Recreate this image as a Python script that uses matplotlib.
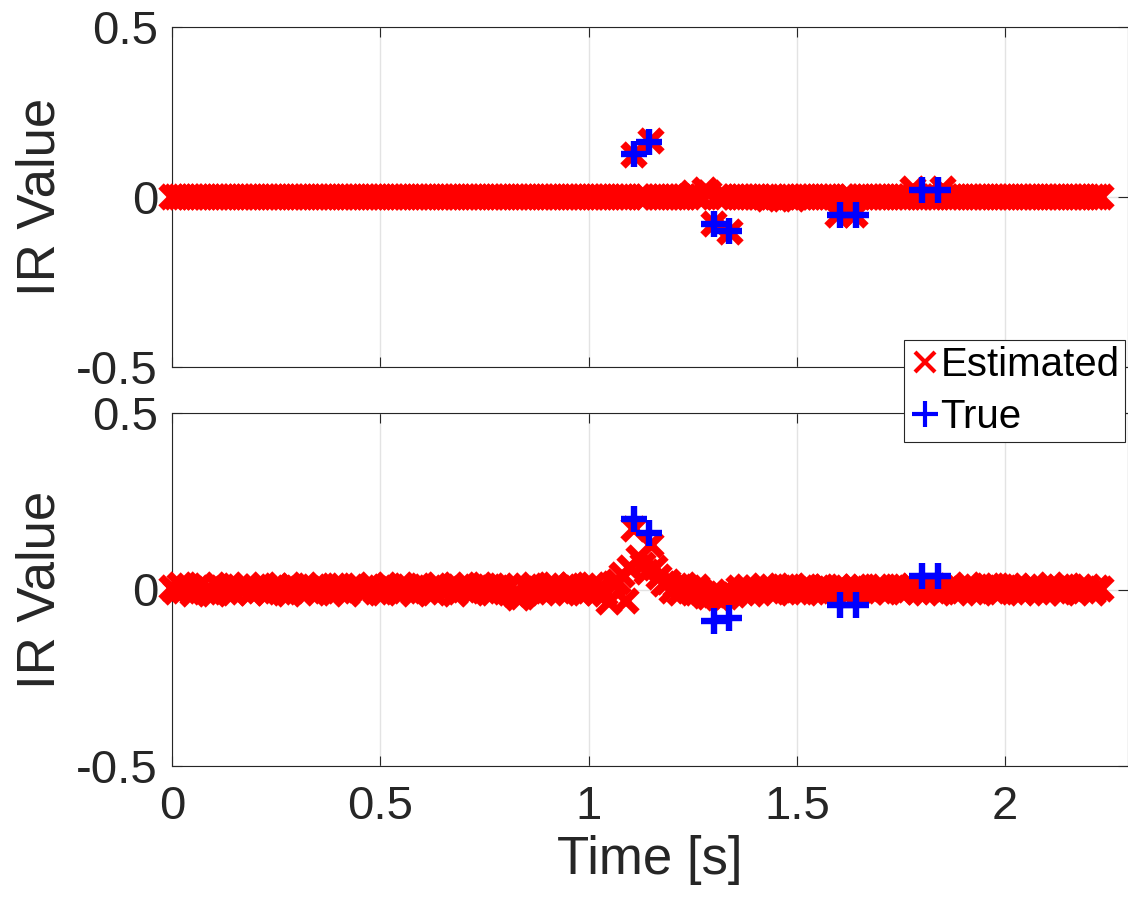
import numpy as np
import matplotlib
matplotlib.use("Agg")
import matplotlib.pyplot as plt

# ── Data ─────────────────────────────────────────────────────────────────────
# sample times of the estimated impulse response, 10 ms apart
t_est = np.round(np.arange(224) * 0.01, 2)

# top panel: estimate is flat zero except around the true taps
est_top = [0.0] * 224
top_taps = {111: 0.124, 115: 0.165, 125: 0.012, 128: 0.020, 129: 0.012,
            130: -0.080, 134: -0.103, 143: -0.006, 146: -0.007, 149: -0.005,
            160: -0.053, 164: -0.053, 178: 0.025, 185: 0.025}
for i, v in top_taps.items():
    est_top[i] = v

# bottom panel: noisy estimate
est_bot = [
    0.005, -0.007, 0.012, -0.003, 0.009, -0.012, 0.005, 0.013, -0.008, 0.002,
    -0.012, 0.010, 0.003, -0.006, 0.012, -0.009, 0.006, -0.002, 0.011, -0.010,
    0.008, -0.004, 0.013, -0.011, 0.003, 0.010, -0.007, 0.001, -0.013, 0.009,
    0.005, -0.008, 0.012, -0.003, 0.006, -0.011, 0.010, 0.002, -0.009, 0.011,
    -0.005, 0.009, -0.012, 0.004, 0.011, -0.002, -0.010, 0.007, 0.013, -0.006,
    0.003, -0.011, 0.010, 0.001, -0.008, 0.012, -0.004, 0.006, -0.013, 0.009,
    0.011, -0.003, 0.005, -0.010, 0.014, -0.006, 0.002, 0.010, -0.012, 0.006,
    -0.002, 0.012, -0.009, 0.004, 0.013, -0.005, 0.007, -0.011, 0.003, 0.010,
    -0.008, 0.011, -0.013, -0.024, -0.020, 0.006, -0.004, 0.013, 0.002, -0.010,
    0.009, -0.006, 0.012, -0.003, 0.007, -0.011, 0.014, 0.004, -0.009, 0.010,
    -0.005, 0.013, -0.011, 0.006, -0.012, -0.034, 0.015, 0.020, 0.040, -0.032,
    0.060, 0.170, 0.090, 0.070, 0.050, 0.127, 0.060, 0.035, 0.015, 0.020,
    -0.004, 0.011, -0.009, 0.013, 0.003, -0.011, 0.008, -0.006, -0.018, -0.022,
    -0.015, -0.025, -0.012, -0.020, -0.008, -0.015, 0.004, -0.010, 0.006, -0.012,
    0.005, -0.008, 0.010, -0.004, 0.007, -0.010, 0.003, 0.008, -0.006, 0.009,
    -0.002, -0.008, 0.006, 0.008, -0.007, 0.004, -0.009, 0.007, 0.002, -0.005,
    0.007, -0.007, 0.005, -0.003, 0.008, -0.008, 0.006, 0.001, -0.007, 0.008,
    -0.004, 0.007, -0.008, 0.003, 0.008, -0.006, 0.007, -0.002, 0.009, -0.008,
    0.006, -0.010, 0.011, -0.004, 0.008, -0.007, 0.002, 0.010, -0.009, 0.005,
    -0.003, 0.012, -0.006, 0.007, -0.011, 0.004, 0.009, -0.005, 0.010, -0.008,
    0.003, 0.011, -0.007, 0.006, -0.010, 0.008, -0.002, 0.010, -0.006, 0.004,
    -0.009, 0.012, -0.004, 0.007, -0.011, 0.009, 0.001, -0.006, 0.008, -0.003,
    0.007, -0.009, 0.005, 0.002,
]

# true taps
t_true   = [1.109, 1.146, 1.300, 1.337, 1.604, 1.642, 1.800, 1.840]
true_top = [0.126, 0.162, -0.079, -0.100, -0.053, -0.053, 0.020, 0.020]
true_bot = [0.200, 0.160, -0.088, -0.080, -0.045, -0.043, 0.037, 0.037]

# ── Style ────────────────────────────────────────────────────────────────────
AX_COL = "#262626"
plt.rcParams.update({
    "font.family": ["Liberation Sans", "DejaVu Sans"],
    "font.size": 34,
})

W, H = 1128, 914
fig = plt.figure(figsize=(W / 100, H / 100), dpi=100)
left = 172 / W
width = 1.0 - left
ax1 = fig.add_axes([left, 1 - 367 / H, width, 340 / H])
ax2 = fig.add_axes([left, 1 - 766 / H, width, 353 / H])

for ax, est, true in [(ax1, est_top, true_top), (ax2, est_bot, true_bot)]:
    ax.plot(t_est, est, "x", color="red", markersize=16, mew=5.5,
            label="Estimated", clip_on=False, zorder=3)
    ax.plot(t_true, true, "+", color="blue", markersize=19, mew=4.6,
            label="True", clip_on=False, zorder=4)
    ax.set_xlim(0, 2.295)
    ax.set_ylim(-0.5, 0.5)
    ax.set_xticks([0, 0.5, 1, 1.5, 2])
    ax.set_yticks([-0.5, 0, 0.5])
    ax.set_yticklabels(["-0.5", "0", "0.5"])
    ax.grid(True, color="#e3e3e3", linewidth=1.0)
    ax.set_axisbelow(True)
    ax.tick_params(direction="in", length=7, width=0.8, colors=AX_COL,
                   top=True, right=True, labelsize=34, pad=10)
    for s in ax.spines.values():
        s.set_color(AX_COL)
        s.set_linewidth(0.8)
    ax.set_ylabel("IR Value", fontsize=38, color=AX_COL, labelpad=8)

ax1.tick_params(labelbottom=False)
ax2.set_xticklabels(["0", "0.5", "1", "1.5", "2"])
ax2.tick_params(axis="x", pad=14)
ax2.set_xlabel("Time [s]", fontsize=38, color=AX_COL, labelpad=4)

leg = fig.legend(handles=ax1.get_lines(), loc="upper left",
                 bbox_to_anchor=(904 / W, 1 - 340 / H), fontsize=29,
                 frameon=True, fancybox=False, framealpha=1,
                 edgecolor=AX_COL, borderpad=0.15, handlelength=0.75,
                 handletextpad=0.0, labelspacing=0.35, borderaxespad=0)
leg.get_frame().set_linewidth(0.8)
leg.legend_handles[0].set_markersize(14)
leg.legend_handles[0].set_markeredgewidth(3.0)
leg.legend_handles[1].set_markersize(19)
leg.legend_handles[1].set_markeredgewidth(3.0)

fig.savefig("out.png", dpi=100)
